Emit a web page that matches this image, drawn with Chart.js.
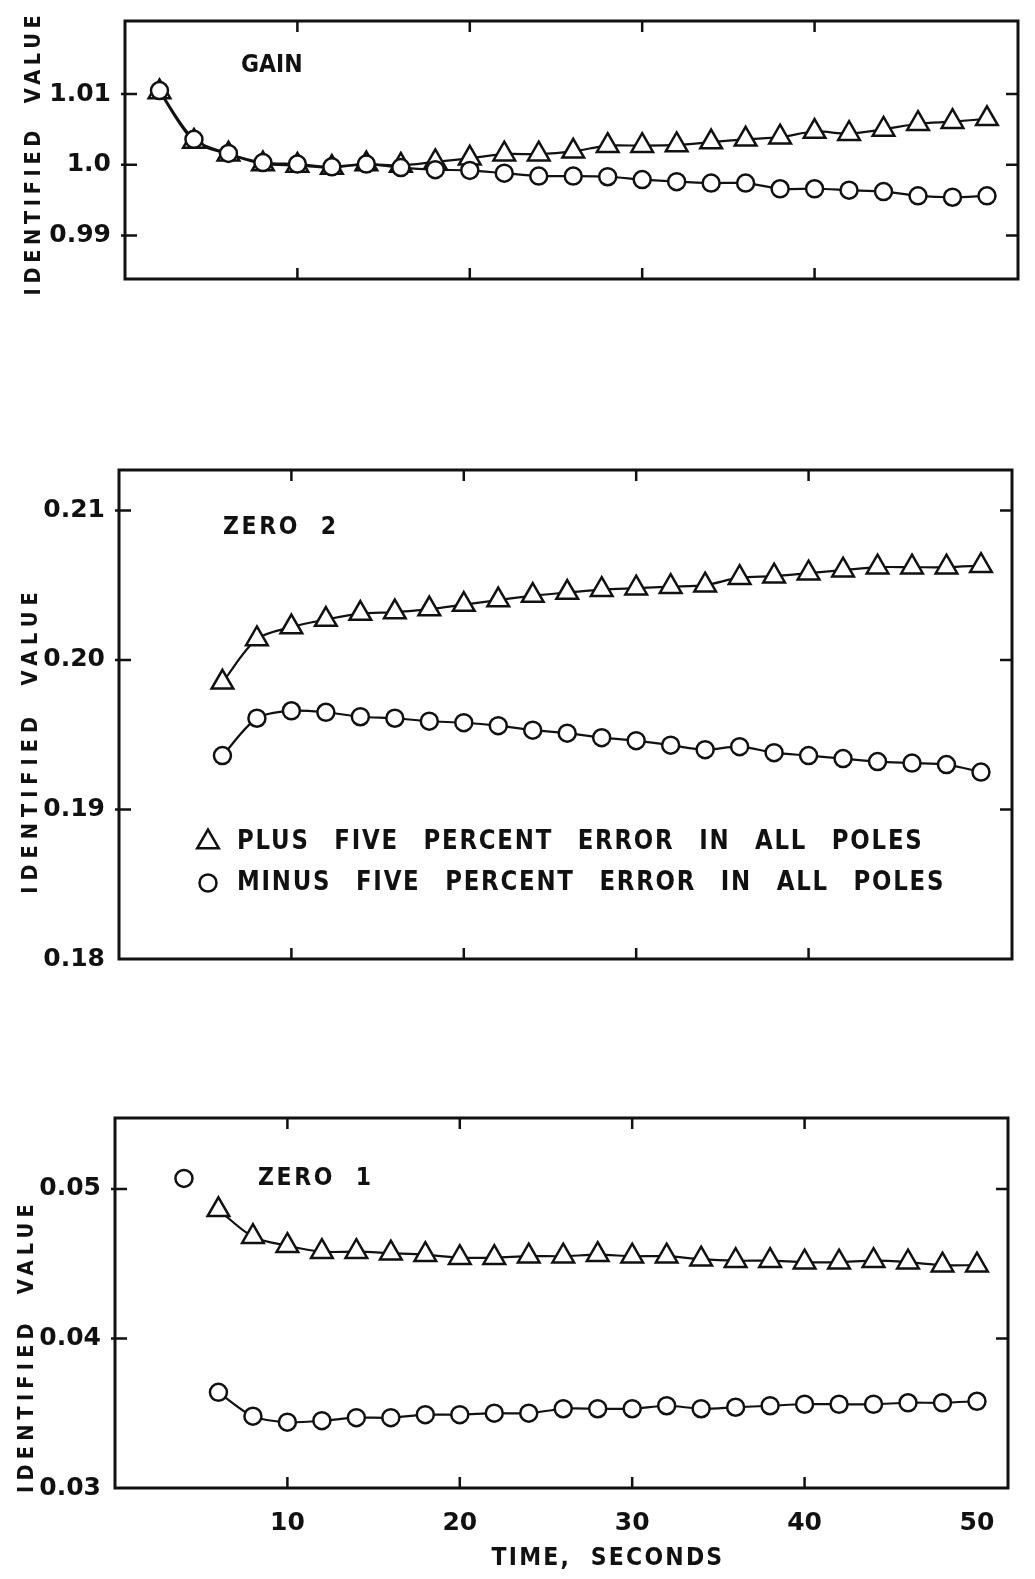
<!DOCTYPE html>
<html>
<head>
<meta charset="utf-8">
<script src="https://cdn.jsdelivr.net/npm/chart.js@4.4.1/dist/chart.umd.min.js"></script>
<style>
html,body{margin:0;padding:0;background:#fff;}
#page{position:relative;width:1035px;height:1579px;overflow:hidden;}
canvas{position:absolute;left:0;}
</style>
</head>
<body>
<div id="page">
  <canvas id="gain" width="1035" height="300" style="top:0px"></canvas>
  <canvas id="zero2" width="1035" height="540" style="top:440px"></canvas>
  <canvas id="zero1" width="1035" height="489" style="top:1090px"></canvas>
</div>
<script>
const FONT = "'DejaVu Sans', sans-serif";
const INK = "#111";

/* time axis, seconds */
const xMin = 0, xMax = 51.8;
const xTickVals = [10, 20, 30, 40, 50];
const xTickLabels = ["10", "20", "30", "40", "50"];
const xMarkVals = [10, 20, 30, 40];

const plusLabel = "PLUS FIVE PERCENT ERROR IN ALL POLES";
const minusLabel = "MINUS FIVE PERCENT ERROR IN ALL POLES";

/* GAIN */
const gainTime = [2, 4, 6, 8, 10, 12, 14, 16, 18, 20, 22, 24, 26, 28, 30, 32, 34, 36, 38, 40, 42, 44, 46, 48, 50];
const gainPlus = [1.0103, 1.0033, 1.0015, 1.0001, 0.9999, 0.9996, 1.0001, 0.9999, 1.0004, 1.0009, 1.0015, 1.0015, 1.0019,
                  1.0027, 1.0027, 1.0028, 1.0032, 1.0036, 1.0039, 1.0047, 1.0044, 1.0050, 1.0058, 1.0061, 1.0065];
const gainMinus = [1.0105, 1.0036, 1.0016, 1.0003, 1.0001, 0.9997, 1.0001, 0.9996, 0.9993, 0.9992, 0.9988, 0.9984, 0.9984,
                   0.9983, 0.9979, 0.9976, 0.9974, 0.9974, 0.9966, 0.9966, 0.9964, 0.9962, 0.9956, 0.9954, 0.9956];
const gainYTicks = [0.99, 1.0, 1.01];
const gainYLabels = ["0.99", "1.0", "1.01"];

/* ZERO 2 */
const zero2Time = [6, 8, 10, 12, 14, 16, 18, 20, 22, 24, 26, 28, 30, 32, 34, 36, 38, 40, 42, 44, 46, 48, 50];
const zero2Plus = [0.1985, 0.2014, 0.2022, 0.2027, 0.2031, 0.2032, 0.2034, 0.2037, 0.2040, 0.2043, 0.2045, 0.2047,
                   0.2048, 0.2049, 0.2050, 0.2055, 0.2056, 0.2058, 0.2060, 0.2062, 0.2062, 0.2062, 0.2063];
const zero2Minus = [0.1936, 0.1961, 0.1966, 0.1965, 0.1962, 0.1961, 0.1959, 0.1958, 0.1956, 0.1953, 0.1951, 0.1948,
                    0.1946, 0.1943, 0.1940, 0.1942, 0.1938, 0.1936, 0.1934, 0.1932, 0.1931, 0.1930, 0.1925];
const zero2YTicks = [0.18, 0.19, 0.20, 0.21];
const zero2YLabels = ["0.18", "0.19", "0.20", "0.21"];

/* ZERO 1 */
const zero1Time = [6, 8, 10, 12, 14, 16, 18, 20, 22, 24, 26, 28, 30, 32, 34, 36, 38, 40, 42, 44, 46, 48, 50];
const zero1Plus = [0.0486, 0.0468, 0.0462, 0.0458, 0.0458, 0.0457, 0.0456, 0.0454, 0.0454, 0.0455, 0.0455, 0.0456,
                   0.0455, 0.0455, 0.0453, 0.0452, 0.0452, 0.0451, 0.0451, 0.0452, 0.0451, 0.0449, 0.0449];
const zero1Minus = [0.0364, 0.0348, 0.0344, 0.0345, 0.0347, 0.0347, 0.0349, 0.0349, 0.0350, 0.0350, 0.0353, 0.0353,
                    0.0353, 0.0355, 0.0353, 0.0354, 0.0355, 0.0356, 0.0356, 0.0356, 0.0357, 0.0357, 0.0358];
// early circle at 4 s, not joined to the rest
const zero1EarlyTime = [4];
const zero1EarlyMinus = [0.0507];
const zero1YTicks = [0.03, 0.04, 0.05];
const zero1YLabels = ["0.03", "0.04", "0.05"];

function pts(xs, ys){ return xs.map((x, i) => ({x: x, y: ys[i]})); }

function series(label, xs, ys, style, line){
    return {
        label: label, data: pts(xs, ys),
        showLine: line !== false, borderColor: INK, borderWidth: 2.2, tension: 0.3, fill: false,
        pointStyle: style, pointRadius: style === "triangle" ? 12.5 : 8.5, pointHoverRadius: style === "triangle" ? 12.5 : 8.5,
        pointBorderWidth: 2.5, pointBackgroundColor: "#fff", pointBorderColor: INK
    };
}

// lettering: DejaVu bold squeezed a little to look like the drafting stencil
function drawText(c, t){
    c.save();
    c.translate(t.x, t.y);
    if(t.rot) c.rotate(t.rot);
    c.scale(0.88, 1);
    c.font = "bold " + (t.size || 25) + "px " + FONT;
    c.letterSpacing = (t.ls || 0) + "px";
    c.wordSpacing = (t.ws || 0) + "px";
    c.textAlign = t.align || "left";
    c.textBaseline = "middle";
    c.fillStyle = INK;
    c.fillText(t.text, 0, 0);
    c.restore();
}

function panel(id, o){
    const paper = {
        id: "paper",
        beforeDatasetsDraw(chart){
            const c = chart.ctx, a = chart.chartArea, xs = chart.scales.x, ys = chart.scales.y;
            c.save();
            c.strokeStyle = INK;
            c.lineWidth = 2.5;
            c.beginPath();
            xMarkVals.forEach(v => {
                const px = xs.getPixelForValue(v);
                c.moveTo(px, a.bottom); c.lineTo(px, a.bottom - 11);
                c.moveTo(px, a.top); c.lineTo(px, a.top + 11);
            });
            o.yMarks.forEach(v => {
                const py = ys.getPixelForValue(v);
                c.moveTo(a.left - 4, py); c.lineTo(a.left + 12, py);
                c.moveTo(a.right, py); c.lineTo(a.right - 12, py);
            });
            c.stroke();
            c.lineWidth = 3;
            c.strokeRect(a.left, a.top, a.right - a.left, a.bottom - a.top);
            c.restore();
        },
        afterDraw(chart){
            const c = chart.ctx;
            o.texts.forEach(t => drawText(c, t));
            if(o.legend){
                const L = o.legend;
                L.order.forEach((di, k) => {
                    const ds = chart.data.datasets[di];
                    const y = L.y + k * L.dy;
                    c.save();
                    c.fillStyle = "#fff"; c.strokeStyle = INK; c.lineWidth = 2.5;
                    Chart.helpers.drawPoint(c, {pointStyle: ds.pointStyle, radius: ds.pointRadius, rotation: 0, borderWidth: 2.5}, L.x, y);
                    c.restore();
                    drawText(c, {text: ds.label, x: L.textX, y: y, size: 26, ls: 2, ws: 17});
                });
            }
        }
    };

    return new Chart(document.getElementById(id), {
        type: "scatter",
        data: {datasets: o.datasets},
        options: {
            responsive: false, animation: false, devicePixelRatio: 1,
            layout: {padding: o.padding},
            plugins: {legend: {display: false}, tooltip: {enabled: false}},
            scales: {
                x: {
                    type: "linear", min: xMin, max: xMax,
                    grid: {display: false}, border: {display: false},
                    afterBuildTicks: s => { s.ticks = xTickVals.map(v => ({value: v})); },
                    afterFit: s => { s.height = o.xAxisH; },
                    ticks: {display: o.xLabels, autoSkip: false, maxRotation: 0, padding: 12, color: INK,
                            font: {family: FONT, size: 25, weight: "bold"}, callback: (v, i) => xTickLabels[i]}
                },
                y: {
                    type: "linear", min: o.yMin, max: o.yMax,
                    grid: {display: false}, border: {display: false},
                    afterBuildTicks: s => { s.ticks = o.yTicks.map(v => ({value: v})); },
                    afterFit: s => { s.width = o.axisW; },
                    ticks: {autoSkip: false, padding: 6, color: INK,
                            font: {family: FONT, size: 25, weight: "bold"}, callback: (v, i) => o.yLabels[i]}
                }
            }
        },
        plugins: [paper]
    });
}

panel("gain", {
    padding: {top: 12, right: 17, bottom: 16, left: 0},
    axisW: 125, xAxisH: 0, xLabels: false,
    yMin: 0.98383, yMax: 1.02034, yTicks: gainYTicks, yLabels: gainYLabels,
    yMarks: [0.99, 1.0, 1.01],
    datasets: [
        series(minusLabel, gainTime, gainMinus, "circle"),
        series(plusLabel, gainTime, gainPlus, "triangle")
    ],
    texts: [
        {text: "GAIN", x: 241, y: 65, size: 25, ls: 0},
        {text: "IDENTIFIED  VALUE", x: 34, y: 153, size: 22, ls: 5.3, rot: -Math.PI / 2, align: "center"}
    ]
});

panel("zero2", {
    padding: {top: 30, right: 23, bottom: 17, left: 0},
    axisW: 119, xAxisH: 0, xLabels: false,
    yMin: 0.18, yMax: 0.2127, yTicks: zero2YTicks, yLabels: zero2YLabels,
    yMarks: [0.19, 0.20, 0.21],
    datasets: [
        series(minusLabel, zero2Time, zero2Minus, "circle"),
        series(plusLabel, zero2Time, zero2Plus, "triangle")
    ],
    texts: [
        {text: "ZERO  2", x: 223, y: 87, size: 25, ls: 3},
        {text: "IDENTIFIED  VALUE", x: 31, y: 300, size: 22, ls: 6.8, rot: -Math.PI / 2, align: "center"}
    ],
    legend: {order: [1, 0], x: 208, y: 402, dy: 41, textX: 237}
});

panel("zero1", {
    padding: {top: 28, right: 27, bottom: 0, left: 0},
    axisW: 115, xAxisH: 91, xLabels: true,
    yMin: 0.03, yMax: 0.05474, yTicks: zero1YTicks, yLabels: zero1YLabels,
    yMarks: [0.04, 0.05],
    datasets: [
        series(minusLabel, zero1Time, zero1Minus, "circle"),
        series(plusLabel, zero1Time, zero1Plus, "triangle"),
        series(minusLabel, zero1EarlyTime, zero1EarlyMinus, "circle", false)
    ],
    texts: [
        {text: "ZERO  1", x: 258, y: 88, size: 25, ls: 3},
        {text: "IDENTIFIED  VALUE", x: 27, y: 256, size: 22, ls: 5.9, rot: -Math.PI / 2, align: "center"},
        {text: "TIME,  SECONDS", x: 608, y: 468, size: 25, ls: 2.5, align: "center"}
    ]
});
</script>
</body>
</html>
